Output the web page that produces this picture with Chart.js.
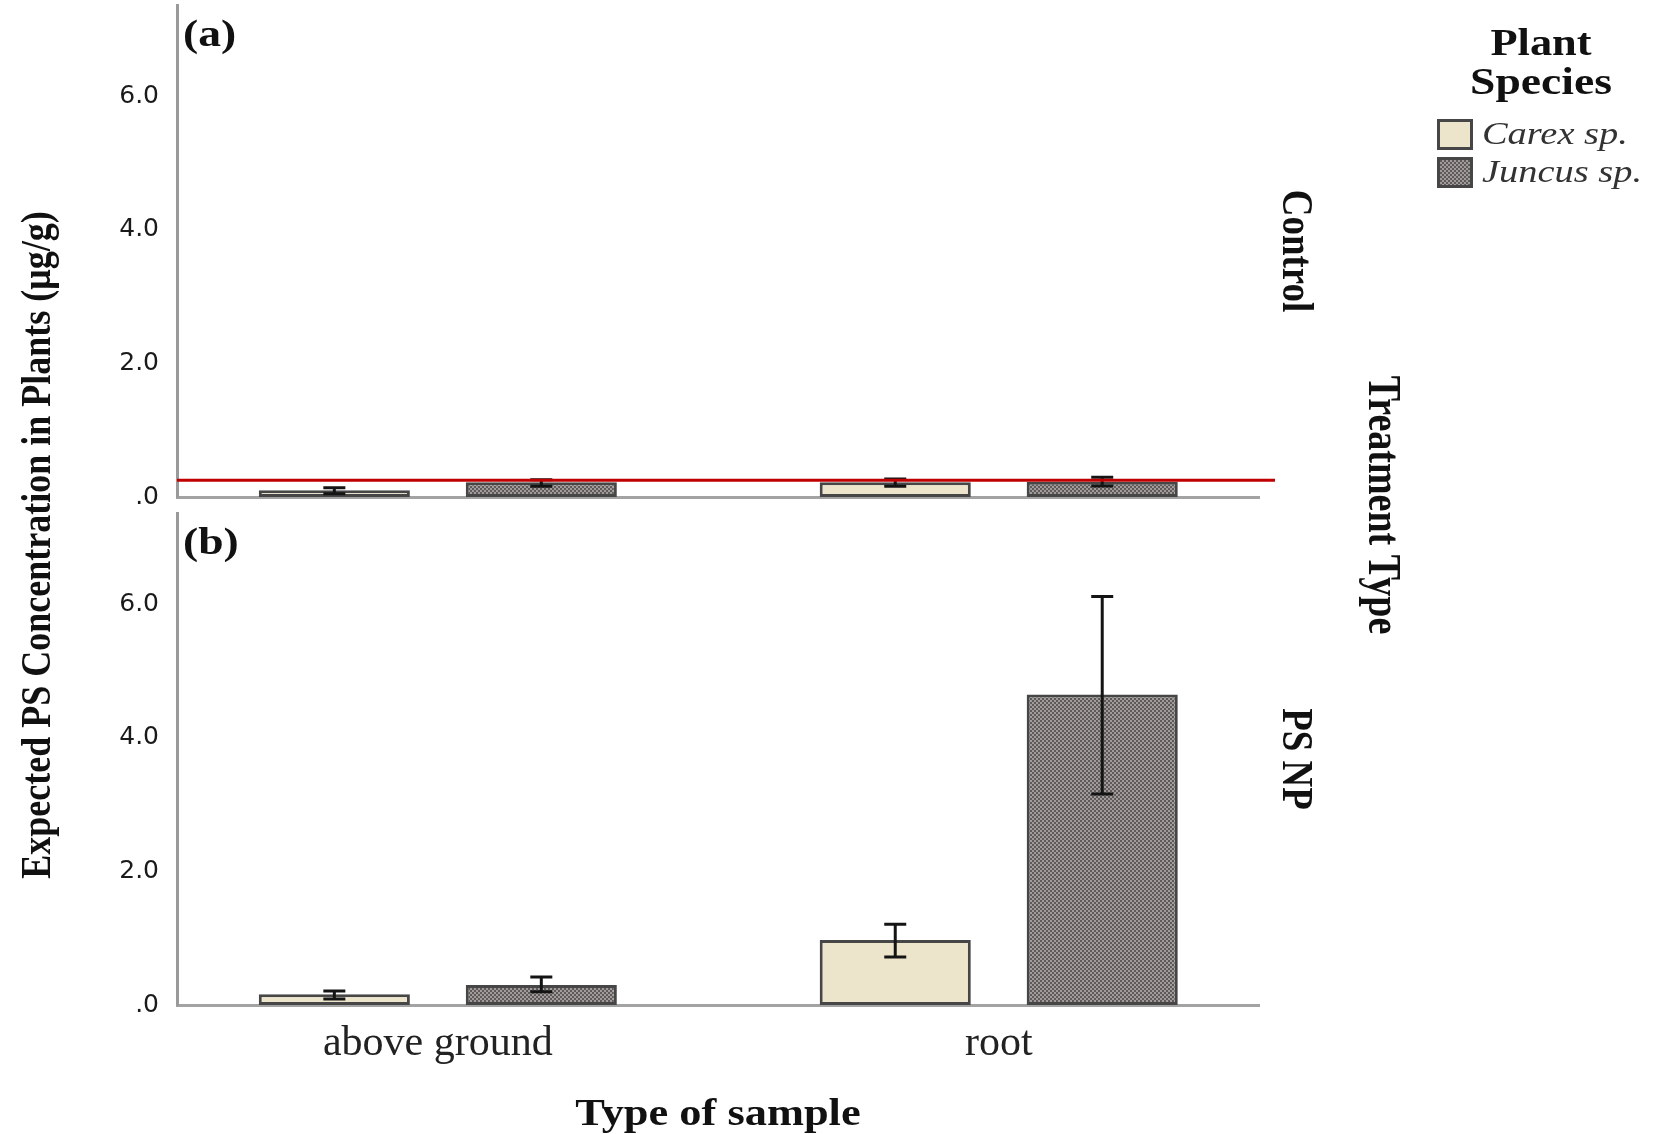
<!DOCTYPE html>
<html><head><meta charset="utf-8">
<script src="https://cdn.jsdelivr.net/npm/chart.js@4/dist/chart.umd.min.js"></script>
<style>
html,body{margin:0;padding:0;background:#fff;overflow:hidden}
#wrap{position:relative;width:1659px;height:1134px;background:#fff}
canvas{position:absolute;left:0;top:0}
</style>
</head><body>
<div id="wrap"><canvas id="cTop" width="1659" height="1134"></canvas><canvas id="cBot" width="1659" height="1134"></canvas></div>
<script>
// ---------- data ----------
const categories = ['above ground', 'root'];
const speciesNames = ['Carex sp.', 'Juncus sp.'];
const panelLabels = ['(a)', '(b)'];
const treatmentNames = ['Control', 'PS NP'];

const controlCarex     = [0.10, 0.22];
const controlCarexLow  = [0.05, 0.16];
const controlCarexHigh = [0.14, 0.27];
const controlJuncus     = [0.22, 0.23];
const controlJuncusLow  = [0.16, 0.165];
const controlJuncusHigh = [0.26, 0.295];

const npCarex     = [0.16, 0.975];
const npCarexLow  = [0.09, 0.72];
const npCarexHigh = [0.21, 1.21];
const npJuncus     = [0.30, 4.65];
const npJuncusLow  = [0.20, 3.16];
const npJuncusHigh = [0.42, 6.12];

const controlRefLine = 0.25;
const yTicks = [0, 2, 4, 6];
const yTickLabels = ['.0', '2.0', '4.0', '6.0'];

// ---------- styles ----------
const SX = 1.2; // horizontal stretch of the original picture's text
const carexColor = '#ece5cb';
const barBorder = '#464646';
function makePattern() {
  const c = document.createElement('canvas'); c.width = 4; c.height = 4;
  const g = c.getContext('2d');
  g.fillStyle = '#a19b9b'; g.fillRect(0, 0, 4, 4);
  g.fillStyle = '#5f5a5a'; g.fillRect(0, 0, 2, 2); g.fillRect(2, 2, 2, 2);
  return g.createPattern(c, 'repeat');
}
const juncusFill = makePattern();

function pts(vals) { return vals.map((v, i) => ({x: i, y: v})); }

function stext(ctx, txt, x, y, font, opt) {
  opt = opt || {};
  ctx.save();
  ctx.translate(x, y);
  ctx.scale(opt.sx || SX, 1);
  if (opt.rot) ctx.rotate(opt.rot);
  ctx.font = font;
  ctx.textAlign = opt.align || 'center';
  ctx.textBaseline = 'alphabetic';
  ctx.fillStyle = opt.color || '#111';
  ctx.fillText(txt, 0, 0);
  ctx.restore();
}

const errorBarPlugin = {
  id: 'errbars',
  afterDatasetsDraw(chart) {
    const ctx = chart.ctx, ys = chart.scales.y;
    chart.data.datasets.forEach((ds, di) => {
      const meta = chart.getDatasetMeta(di);
      meta.data.forEach((bar, i) => {
        const x = bar.x;
        const yl = ys.getPixelForValue(ds.errLow[i]);
        const yh = ys.getPixelForValue(ds.errHigh[i]);
        ctx.save();
        ctx.strokeStyle = '#141414'; ctx.lineWidth = 3; ctx.lineCap = 'butt';
        ctx.beginPath();
        ctx.moveTo(x, yl); ctx.lineTo(x, yh);
        ctx.moveTo(x - 11, yl); ctx.lineTo(x + 11, yl);
        ctx.moveTo(x - 11, yh); ctx.lineTo(x + 11, yh);
        ctx.stroke();
        ctx.restore();
      });
    });
  }
};

const refLinePlugin = {
  id: 'refline',
  afterDraw(chart) {
    const ctx = chart.ctx, ys = chart.scales.y, a = chart.chartArea;
    const y = ys.getPixelForValue(controlRefLine);
    ctx.save();
    ctx.strokeStyle = '#c00000'; ctx.lineWidth = 3;
    ctx.beginPath(); ctx.moveTo(a.left, y); ctx.lineTo(a.right + 16, y); ctx.stroke();
    ctx.restore();
  }
};

const panelTextPlugin = {
  id: 'paneltext',
  afterDraw(chart) {
    const ctx = chart.ctx, a = chart.chartArea;
    const idx = chart.options.panelIndex;
    stext(ctx, panelLabels[idx], a.left + 6, a.top + 41, 'bold 38px "Liberation Serif"', {align: 'left'});
    stext(ctx, treatmentNames[idx], 1283, (a.top + a.bottom) / 2, 'bold 37px "Liberation Serif"', {rot: Math.PI / 2});
  }
};

const decorPlugin = {
  id: 'decor',
  afterDraw(chart) {
    const ctx = chart.ctx;
    stext(ctx, 'Expected PS Concentration in Plants (\u03bcg/g)', 50, 545, 'bold 36px "Liberation Serif"', {rot: -Math.PI / 2});
    stext(ctx, 'Type of sample', 718, 1125, 'bold 37px "Liberation Serif"');
    stext(ctx, 'Treatment Type', 1369, 505, 'bold 38px "Liberation Serif"', {rot: Math.PI / 2});
    stext(ctx, 'Plant', 1541, 55, 'bold 37px "Liberation Serif"');
    stext(ctx, 'Species', 1541, 94, 'bold 38px "Liberation Serif"');
    const boxes = [[1437, 119, carexColor], [1437, 157, juncusFill]];
    boxes.forEach((b, i) => {
      ctx.save();
      ctx.fillStyle = b[2];
      ctx.fillRect(b[0], b[1], 36, 31);
      ctx.strokeStyle = barBorder; ctx.lineWidth = 3;
      ctx.strokeRect(b[0] + 1.5, b[1] + 1.5, 33, 28);
      ctx.restore();
      stext(ctx, speciesNames[i], 1482, b[1] + 25, 'italic 32px "Liberation Serif"', {align: 'left', color: '#333'});
    });
  }
};

function makeChart(id, panelIndex, carex, carexLo, carexHi, juncus, juncusLo, juncusHi, isBottom) {
  const plugins = [errorBarPlugin, panelTextPlugin];
  if (!isBottom) plugins.push(refLinePlugin);
  if (isBottom) plugins.push(decorPlugin);
  return new Chart(document.getElementById(id), {
    type: 'bar',
    data: {
      datasets: [
        {label: speciesNames[0], data: pts(carex), errLow: carexLo, errHigh: carexHi,
         backgroundColor: carexColor},
        {label: speciesNames[1], data: pts(juncus), errLow: juncusLo, errHigh: juncusHi,
         backgroundColor: juncusFill}
      ]
    },
    plugins: plugins,
    options: {
      panelIndex: panelIndex,
      responsive: false, animation: false, devicePixelRatio: 1,
      layout: {padding: {left: 0, right: 400, top: isBottom ? 513 : 5, bottom: isBottom ? 0 : 637}},
      datasets: {bar: {borderColor: barBorder, borderWidth: 3, borderSkipped: false,
                       categoryPercentage: 0.738, barPercentage: 0.73}},
      plugins: {legend: {display: false}, tooltip: {enabled: false}},
      scales: {
        x: {
          type: 'linear', min: -0.465, max: 1.464, offset: false,
          grid: {display: false, drawTicks: false, offset: false},
          border: {display: true, color: '#a3a3a3', width: 3},
          afterBuildTicks: s => { s.ticks = categories.map((c, i) => ({value: i})); },
          afterFit: s => { s.height = isBottom ? 129 : 0; s.paddingLeft = 0; s.paddingRight = 0; },
          ticks: {display: isBottom, padding: 14, color: '#222', maxRotation: 0, autoSkip: false,
                  font: {family: 'Liberation Serif', size: 42},
                  callback: v => categories[v]}
        },
        y: {
          min: 0, max: 7.37,
          grid: {display: false, drawTicks: false},
          border: {display: true, color: '#9a9a9a', width: 3},
          afterBuildTicks: s => { s.ticks = yTicks.map(v => ({value: v})); },
          afterFit: s => { s.width = 177; s.paddingTop = 0; s.paddingBottom = 0; },
          ticks: {padding: 18, color: '#1a1a1a', font: {family: 'DejaVu Sans', size: 25},
                  callback: v => yTickLabels[yTicks.indexOf(v)]}
        }
      }
    }
  });
}

makeChart('cTop', 0, controlCarex, controlCarexLow, controlCarexHigh, controlJuncus, controlJuncusLow, controlJuncusHigh, false);
makeChart('cBot', 1, npCarex, npCarexLow, npCarexHigh, npJuncus, npJuncusLow, npJuncusHigh, true);
</script>
</body></html>
